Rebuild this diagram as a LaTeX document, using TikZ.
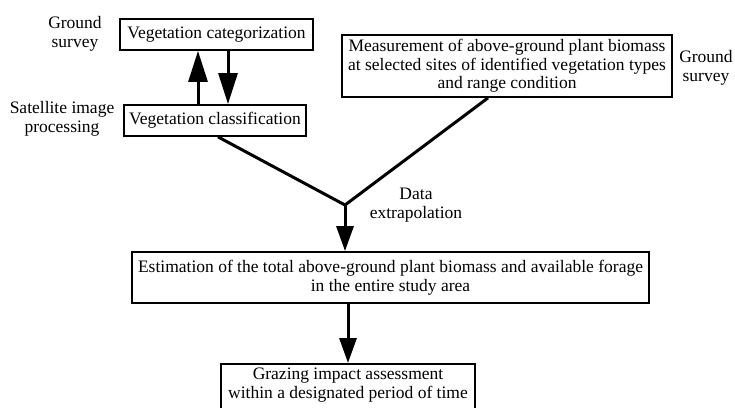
\documentclass[tikz,border=0pt]{standalone}
\usepackage{fontspec}
\setmainfont{Liberation Serif}
\usetikzlibrary{arrows.meta}
\begin{document}
\begin{tikzpicture}[x=1pt,y=-1pt,
  every node/.style={font=\fontsize{17.5}{18.5}\selectfont, align=center, inner sep=0pt},
  box/.style={draw, line width=1.8pt},
  lbl/.style={},
  conn/.style={line width=3pt, line join=miter},
  arr/.style={line width=3pt, -{Triangle[length=25pt,width=17pt]}},
  arrbig/.style={line width=3pt, -{Triangle[length=31pt,width=19pt]}}]
\clip (0,0) rectangle (735,407);
\fill[white] (0,0) rectangle (735,407);
\node[box, minimum width=193pt, minimum height=31pt] (cat) at (216.5,34.5) {Vegetation categorization};
\node[box, minimum width=182pt, minimum height=31pt] (cls) at (215,120.5) {Vegetation classification};
\node[box, minimum width=330pt, minimum height=62pt] (meas) at (507,66) {Measurement of above-ground plant biomass\\at selected sites of identified vegetation types\\and range condition};
\node[box, minimum width=517pt, minimum height=51pt] (est) at (390.5,277.5) {Estimation of the total above-ground plant biomass and available forage\\in the entire study area};
\node[box, minimum width=254pt, minimum height=52pt, anchor=north] (graz) at (348,363) {\rule{0pt}{0pt}\\[-17pt]Grazing impact assessment\\within a designated period of time};
\node[lbl] (gs1) at (75,34) {Ground\\survey};
\node[lbl] (sat) at (62,119) {Satellite image\\processing};
\node[lbl] (gs2) at (706,68) {Ground\\survey};
\node[lbl] (data) at (416,205) {Data\\extrapolation};
\coordinate (J) at (345,205);
\draw[arrbig] ([xshift=-17pt]cls.north) -- ([xshift=-17pt]cls.north |- cat.south);
\draw[arrbig] ([xshift=11.5pt]cat.south) -- ([xshift=11.5pt]cat.south |- cls.north);
\draw[conn] ([xshift=3pt]cls.south) -- (J) -- ([xshift=-19pt]meas.south);
\draw[arr] (J) -- (J |- est.north);
\draw[arr] (graz.north |- est.south) -- (graz.north);
\end{tikzpicture}
\end{document}
